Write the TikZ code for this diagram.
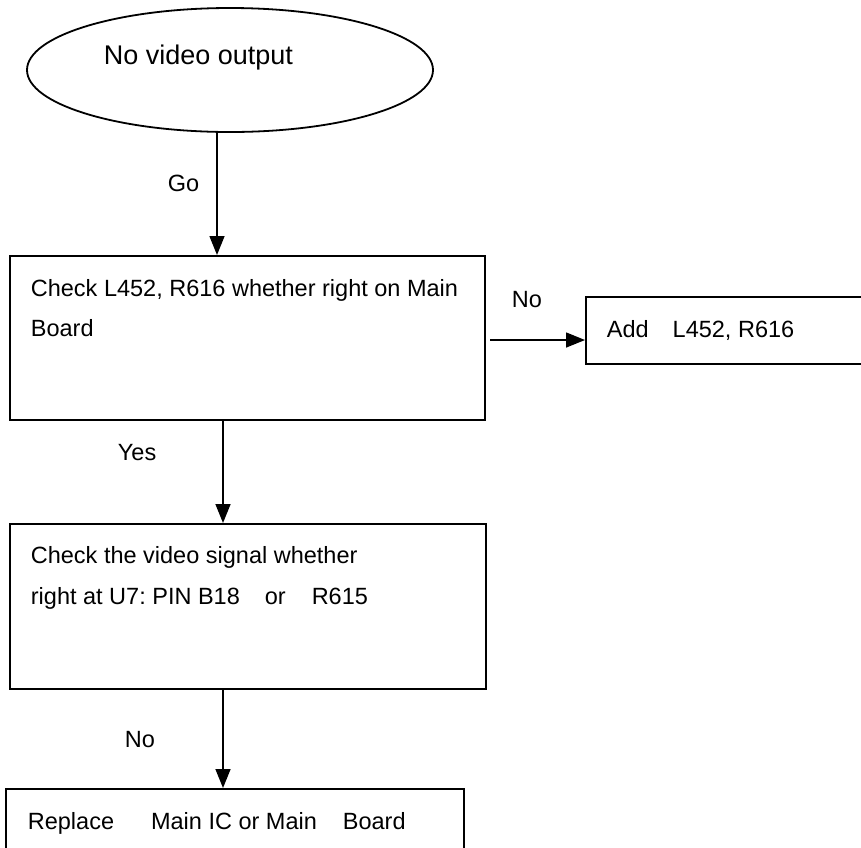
\documentclass[tikz,border=0pt]{standalone}
\usepackage{fontspec}
\setmainfont{Liberation Sans}
\usetikzlibrary{shapes.geometric,arrows.meta}
\frenchspacing
\begin{document}
\begin{tikzpicture}[x=1pt,y=-1pt,
  line width=1.8pt,
  lbl/.style={font=\fontsize{23.5}{28}\selectfont, inner sep=0pt, anchor=base west},
  box/.style={draw, rectangle, inner sep=0pt, anchor=north west},
  arr/.style={line width=1.5pt,-{Triangle[width=15pt,length=19pt]}}
]
\useasboundingbox (0,0) rectangle (861,847);
\clip (0,0) rectangle (861,847);
% start ellipse
\node[draw, ellipse, minimum width=406pt, minimum height=124pt, inner sep=0pt] (start) at (230,70) {};
\node[font=\fontsize{27}{32}\selectfont, inner sep=0pt, anchor=base west] (t0) at (103,64) {No video output};
% boxes
\node[box, minimum width=475pt, minimum height=164pt] (b1) at (9,255) {};
\node[lbl] (t1a) at (30,296) {Check L452, R616 whether right on Main};
\node[lbl] (t1b) at (30,336) {Board};
\node[box, minimum width=290pt, minimum height=67pt] (add) at (585,296) {};
\node[lbl] (t2) at (606,337) {Add\hspace{24pt}L452, R616};
\node[box, minimum width=476pt, minimum height=165pt] (b2) at (9,523) {};
\node[lbl] (t3a) at (30,563) {Check the video signal whether};
\node[lbl] (t3b) at (30,604) {right at U7: PIN B18\hspace{25pt}or\hspace{26pt}R615};
\node[box, minimum width=458pt, minimum height=80pt] (b3) at (5,788) {};
\node[lbl] (t4) at (27,829) {Replace\hspace{37pt}Main IC or Main\hspace{26pt}Board};
% labels
\node[lbl] (lgo) at (167,191) {Go};
\node[lbl] (lno1) at (511,307) {No};
\node[lbl] (lyes) at (117,460) {Yes};
\node[lbl] (lno2) at (124,747) {No};
% connectors
\coordinate (g) at (217,0);
\coordinate (y1) at (223,0);
\coordinate (n1) at (490,340);
\draw[arr] (start.south -| g) -- (b1.north -| g);
\draw[arr] (b1.south -| y1) -- (b2.north -| y1);
\draw[arr] (b2.south -| y1) -- (b3.north -| y1);
\draw[arr] (n1) -- (n1 -| add.west);
\end{tikzpicture}
\end{document}
